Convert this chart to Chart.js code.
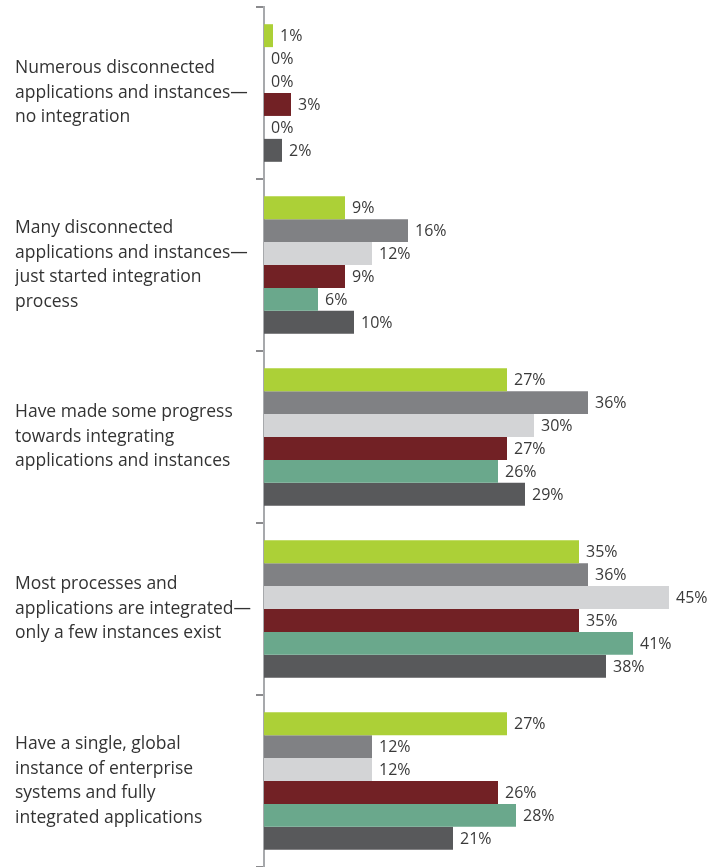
<!DOCTYPE html>
<html lang="en">
<head>
    <meta charset="UTF-8">
    <title>Integration of applications and instances</title>
    <script src="https://cdn.jsdelivr.net/npm/chart.js@4.4.4/dist/chart.umd.min.js"></script>
    <style>
        html, body {
            margin: 0;
            padding: 0;
            background: #fff;
        }
        .chart-container {
            width: 720px;
            height: 867px;
        }
    </style>
</head>
<body>
    <div class="chart-container">
        <canvas id="integration-chart"></canvas>
    </div>

    <script>
        // Categories (multi-line labels)
        const categories = [
            ['Numerous disconnected', 'applications and instances\u2014', 'no integration'],
            ['Many disconnected', 'applications and instances\u2014', 'just started integration', 'process'],
            ['Have made some progress', 'towards integrating', 'applications and instances'],
            ['Most processes and', 'applications are integrated\u2014', 'only a few instances exist'],
            ['Have a single, global', 'instance of enterprise', 'systems and fully', 'integrated applications']
        ];

        // Percentages per group, top bar to bottom bar in each category
        const seriesA = [1, 9, 27, 35, 27];
        const seriesB = [0, 16, 36, 36, 12];
        const seriesC = [0, 12, 30, 45, 12];
        const seriesD = [3, 9, 27, 35, 26];
        const seriesE = [0, 6, 26, 41, 28];
        const seriesF = [2, 10, 29, 38, 21];

        const seriesColors = ['#acd037', '#808184', '#d3d4d6', '#722125', '#6aa88c', '#58595b'];

        // Writes "n%" just past the end of each bar
        const valueLabels = {
            id: 'valueLabels',
            afterDatasetsDraw(chart) {
                const ctx = chart.ctx;
                ctx.save();
                ctx.font = '16px "Open Sans"';
                ctx.fillStyle = '#3a3a3a';
                ctx.textAlign = 'left';
                ctx.textBaseline = 'middle';
                chart.data.datasets.forEach((ds, i) => {
                    const meta = chart.getDatasetMeta(i);
                    meta.data.forEach((bar, j) => {
                        ctx.fillText(ds.data[j] + '%', bar.x + 7, bar.y + 1);
                    });
                });
                ctx.restore();
            }
        };

        document.addEventListener('DOMContentLoaded', function() {
            const data = [seriesA, seriesB, seriesC, seriesD, seriesE, seriesF];

            new Chart(document.getElementById('integration-chart'), {
                type: 'bar',
                data: {
                    labels: categories,
                    datasets: data.map((values, i) => ({
                        data: values,
                        backgroundColor: seriesColors[i],
                        categoryPercentage: 0.8,
                        barPercentage: 1.0
                    }))
                },
                options: {
                    indexAxis: 'y',
                    responsive: true,
                    maintainAspectRatio: false,
                    animation: false,
                    layout: {
                        padding: { top: 7, bottom: 0, left: 15, right: 6 }
                    },
                    plugins: {
                        legend: { display: false },
                        tooltip: { enabled: false }
                    },
                    scales: {
                        x: {
                            display: false,
                            min: 0,
                            max: 50
                        },
                        y: {
                            // fixed label column; tall labels must not shrink the plot
                            afterFit: scale => {
                                scale.width = 249;
                                scale.paddingTop = 0;
                                scale.paddingBottom = 0;
                            },
                            border: { display: true, color: '#a7a9ac', width: 2 },
                            grid: {
                                drawOnChartArea: false,
                                drawTicks: true,
                                tickLength: 8,
                                color: '#8a8a8d',
                                lineWidth: 2
                            },
                            ticks: {
                                crossAlign: 'far',
                                color: '#333',
                                font: { family: '"Open Sans"', size: 17.5, lineHeight: 1.4 }
                            }
                        }
                    }
                },
                plugins: [valueLabels]
            });
        });
    </script>
</body>
</html>
